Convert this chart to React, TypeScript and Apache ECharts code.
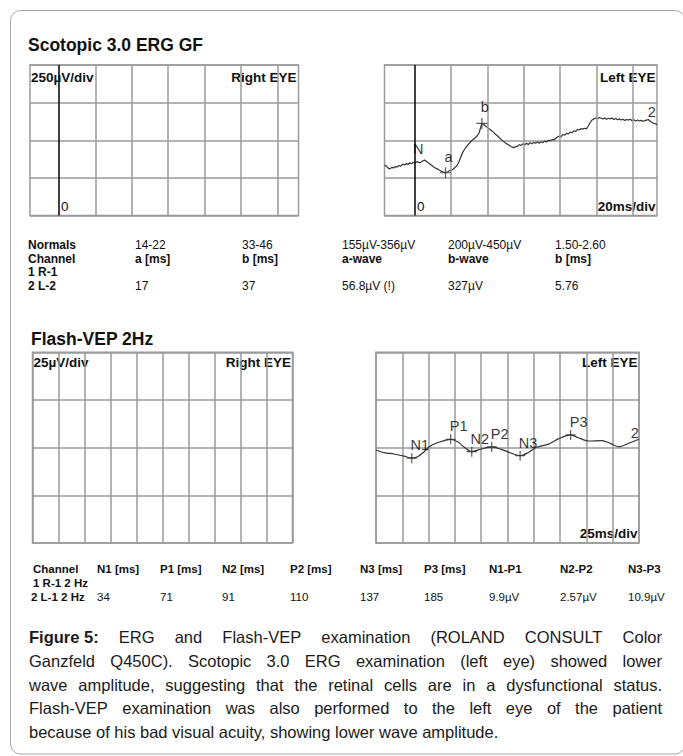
import React, { useEffect, useRef } from "react";
import * as echarts from "echarts";

// ---------- DATA ----------
// Scotopic 3.0 ERG, left eye trace (time in ms, amplitude in µV)
const ergTimeMs = [
  -16.5, -15.5, -14.5, -13.5, -12.5, -11.5, -10.5, -9.5, -8.5, -7.5, -6.5, -5.5, -4.5, -3.5, -2.5, -1.5, -0.5, 0.5,
  1.5, 2.5, 3.5, 4.5, 5.5, 6.5, 7.5, 8.5, 9.5, 10.5, 11.5, 12.5, 13.5, 14.5, 15.5, 17, 18.5, 19.5, 20.5, 21.5, 22.5,
  23.5, 24.5, 25.5, 26.5, 27.5, 28.5, 29.5, 30.5, 31.5, 32.5, 33.5, 34.5, 35.5, 36.2, 37, 38, 39.5, 41, 42.5, 44,
  45.5, 47, 48.5, 50, 51.5, 53, 54.3, 55.5, 56.5, 57.5, 58.5, 59.5, 60.5, 61.5, 62.5, 63.5, 64.5, 65.5, 66.5, 67.5,
  68.5, 69.5, 70.5, 71.5, 72.5, 73.5, 74.5, 75.5, 76.5, 77.5, 78.5, 79.5, 80.5, 81.5, 82.5, 83.5, 84.5, 85.5, 86.5,
  87.5, 88.5, 89.5, 90.5, 91.5, 92.5, 93.5, 94.5, 95.5, 96.5, 97.5, 98.5, 99.5, 100.5, 101.5, 102.5, 103.5, 104.5,
  105.5, 106.5, 107.5, 108.5, 109.5, 110.5, 111.5, 112.5, 113.5, 114.5, 115.5, 116.5, 117.5, 118.5, 119.5, 120.5,
  121.5, 122.5, 123.5, 124.5, 125.5, 126.5, 127.5, 128.5, 129.5, 130.5, 131.5, 132.5, 133.2,
];
const ergAmpUv = [
  -165, -172, -185, -190, -180, -184, -175, -178, -168, -172, -158, -164, -155, -160, -150, -156, -146, -150,
  -142, -150, -145, -138, -132, -140, -150, -158, -168, -178, -185, -190, -198, -205, -210, -216, -208, -200, -198,
  -190, -178, -165, -140, -110, -80, -60, -42, -28, -15, -2, 8, 18, 30, 50, 80, 112, 104, 90, 76, 62, 46,
  30, 12, -4, -18, -30, -42, -49, -44, -40, -30, -34, -24, -30, -20, -28, -16, -24, -14, -20, -12,
  -20, -10, -16, -6, -12, 0, -4, 4, 2, 12, 22, 28, 24, 38, 34, 46, 42, 54, 50,
  62, 58, 72, 68, 78, 74, 80, 76, 96, 118, 134, 142, 148, 144, 150, 146, 142, 148,
  140, 146, 142, 148, 138, 144, 136, 142, 134, 140, 132, 138, 134, 140, 130, 136,
  128, 134, 128, 132, 126, 130, 134, 138, 126, 118, 112, 108, 104,
];
const ergPeakNames = ["a", "b"];
const ergPeakTimeMs = [17, 37];
const ergPeakAmpUv = [-216, 112];
const ergTagNames = ["N", "2"];
const ergTagTimeMs = [2.1, 130.3];
const ergTagAmpUv = [-55, 188];
const ergDivTimeMs = [0, 20, 40, 60, 80, 100, 120];

// Flash-VEP 2Hz, left eye trace (time in ms, amplitude in µV)
const vepTimeMs = [
  0, 7.6, 17.1, 26.7, 34, 39.5, 45.8, 50.6, 57, 64.9, 71, 77.7, 84, 91, 100, 110, 119.1, 128.7, 137, 144.6, 152.6,
  163.8, 173.3, 185, 192.4, 202, 214.7, 222.7, 230.7, 240.3, 250,
];
const vepAmpUv = [
  -1.2, -2.6, -3.3, -4.4, -5.5, -4.7, -2.1, 0.5, 2.3, 3.7, 4.4, 3.1, 0.2, -2.1, -0.7, 0.4, -0.9, -2.9, -4.2, -2.6,
  0.2, 1.9, 4.6, 6.7, 5.2, 3.5, 3.7, 2.3, 0.5, 2.3, 4.4,
];
const vepPeakNames = ["N1", "P1", "N2", "P2", "N3", "P3"];
const vepPeakTimeMs = [34, 71, 91, 110, 137, 185];
const vepPeakAmpUv = [-5.5, 4.4, -2.1, 0.4, -4.2, 6.7];
const vepTagNames = ["2"];
const vepTagTimeMs = [246];
const vepTagAmpUv = [7.5];

// Tables
const ergNormalsRow = ["Normals", "14-22", "33-46", "155µV-356µV", "200µV-450µV", "1.50-2.60"];
const ergHeaderRow = ["Channel", "a [ms]", "b [ms]", "a-wave", "b-wave", "b [ms]"];
const ergRow1 = ["1 R-1"];
const ergRow2 = ["2 L-2", "17", "37", "56.8µV (!)", "327µV", "5.76"];
const vepHeaderRow = ["Channel", "N1 [ms]", "P1 [ms]", "N2 [ms]", "P2 [ms]", "N3 [ms]", "P3 [ms]", "N1-P1", "N2-P2", "N3-P3"];
const vepRow1 = ["1 R-1 2 Hz"];
const vepRow2 = ["2 L-1 2 Hz", "34", "71", "91", "110", "137", "185", "9.9µV", "2.57µV", "10.9µV"];

const captionLead = "Figure 5:";
const captionLines = [
  "Figure 5: ERG and Flash-VEP examination (ROLAND CONSULT Color",
  "Ganzfeld Q450C). Scotopic 3.0 ERG examination (left eye) showed lower",
  "wave amplitude, suggesting that the retinal cells are in a dysfunctional status.",
  "Flash-VEP examination was also performed to the left eye of the patient",
  "because of his bad visual acuity, showing lower wave amplitude.",
];

// ---------- LAYOUT / STYLE ----------
const FF = '"Liberation Sans", Arial, Helvetica, sans-serif';
const GRID_COLOR = "#9a9a9a";
const GRID_W = 1.5;
const TRACE = "#333";
const TEXT = "#111";
const ergColX = [28, 135, 242, 342, 448, 555];
const ergRowY = [245, 258.5, 272, 285.5];
const vepColX = [33, 97, 160, 222, 290, 360, 424, 489, 560, 628];
const vepRowY = [569, 583, 596.5];
const CAP_SIZE = 16.5;
const CAP_LEFT = 29;
const CAP_RIGHT = 662;
const capLineY = [637, 661, 684.5, 708, 731.5];
const PANEL_LABEL = 13.5;

let measureCtx: CanvasRenderingContext2D | null = null;
function textWidth(s: string, font: string): number {
  if (!measureCtx) measureCtx = document.createElement("canvas").getContext("2d");
  if (!measureCtx) return s.length * 7;
  measureCtx.font = font;
  return measureCtx.measureText(s).width;
}

function txt(x: number, y: number, text: string, size: number, weight: string, align = "left", color = TEXT) {
  return {
    type: "text",
    x,
    y,
    silent: true,
    style: {
      text,
      fill: color,
      fontSize: size,
      fontWeight: weight,
      fontFamily: FF,
      align,
      verticalAlign: "middle",
      textAlign: align,
      textVerticalAlign: "middle",
    },
  };
}

function captionElements() {
  const els: any[] = [];
  captionLines.forEach((line, i) => {
    let words: string[];
    let weights: string[];
    if (i === 0 && line.startsWith(captionLead)) {
      words = [captionLead, ...line.slice(captionLead.length).trim().split(" ")];
      weights = words.map((_, j) => (j === 0 ? "bold" : "normal"));
    } else {
      words = line.split(" ");
      weights = words.map(() => "normal");
    }
    const widths = words.map((w, j) => textWidth(w, `${weights[j]} ${CAP_SIZE}px "Liberation Sans"`));
    const total = widths.reduce((a, b) => a + b, 0);
    const justify = i < captionLines.length - 1;
    const gap = justify
      ? (CAP_RIGHT - CAP_LEFT - total) / (words.length - 1)
      : textWidth(" ", `normal ${CAP_SIZE}px "Liberation Sans"`);
    let x = CAP_LEFT;
    words.forEach((w, j) => {
      els.push(txt(x, capLineY[i], w, CAP_SIZE, weights[j], "left", "#1a1a1a"));
      x += widths[j] + gap;
    });
  });
  return els;
}

function tableElements() {
  const els: any[] = [];
  ergNormalsRow.forEach((t, i) => els.push(txt(ergColX[i], ergRowY[0], t, 12, i === 0 ? "bold" : "normal")));
  ergHeaderRow.forEach((t, i) => els.push(txt(ergColX[i], ergRowY[1], t, 12, "bold")));
  ergRow1.forEach((t, i) => els.push(txt(ergColX[i], ergRowY[2], t, 12, "bold")));
  ergRow2.forEach((t, i) => els.push(txt(ergColX[i], ergRowY[3], t, 12, i === 0 ? "bold" : "normal")));
  vepHeaderRow.forEach((t, i) => els.push(txt(vepColX[i], vepRowY[0], t, 11.5, "bold")));
  vepRow1.forEach((t, i) => els.push(txt(vepColX[i], vepRowY[1], t, 11.5, "bold")));
  vepRow2.forEach((t, i) => els.push(txt(i === 0 ? vepColX[i] - 2 : vepColX[i], vepRowY[2], t, 11.5, i === 0 ? "bold" : "normal")));
  return els;
}

const crossSymbol = "path://M5,0 L5,10 M0,5 L10,5";

function axisOff(extra: any) {
  return {
    type: "value",
    axisLine: { show: false },
    axisTick: { show: false },
    axisLabel: { show: false },
    splitLine: { show: false },
    ...extra,
  };
}

const splitStyle = { show: true, lineStyle: { color: GRID_COLOR, width: GRID_W, type: "solid" } };

function ergGridLines() {
  return {
    silent: true,
    symbol: ["none", "none"],
    label: { show: false },
    animation: false,
    lineStyle: { color: GRID_COLOR, width: GRID_W, type: "solid" },
    data: ergDivTimeMs.map((t) =>
      t === 0 ? { xAxis: t, lineStyle: { color: "#111", width: 1.6, type: "solid" } } : { xAxis: t }
    ),
  };
}

function pairs(xs: number[], ys: number[]) {
  return xs.map((x, i) => [x, ys[i]]);
}

function buildOption() {
  const graphic: any[] = [
    {
      type: "rect",
      silent: true,
      shape: { x: 10.5, y: 10.5, width: 674.5, height: 743.5, r: 10 },
      style: { fill: "none", stroke: "#a8a8a8", lineWidth: 1 },
    },
    txt(28, 44.5, "Scotopic 3.0 ERG GF", 17.5, "bold"),
    txt(31, 338.5, "Flash-VEP 2Hz", 17.5, "bold"),
    // ERG panel labels
    txt(31, 77, "250µV/div", PANEL_LABEL, "bold"),
    txt(296.5, 77, "Right EYE", PANEL_LABEL, "bold", "right"),
    txt(61, 206, "0", PANEL_LABEL, "normal"),
    txt(655.5, 77, "Left EYE", PANEL_LABEL, "bold", "right"),
    txt(417, 206, "0", PANEL_LABEL, "normal"),
    txt(655.5, 206, "20ms/div", PANEL_LABEL, "bold", "right"),
    // VEP panel labels
    txt(33.5, 362, "25µV/div", PANEL_LABEL, "bold"),
    txt(291, 362, "Right EYE", PANEL_LABEL, "bold", "right"),
    txt(637.5, 362, "Left EYE", PANEL_LABEL, "bold", "right"),
    txt(637.5, 533, "25ms/div", PANEL_LABEL, "bold", "right"),
    ...tableElements(),
    ...captionElements(),
  ];

  const markerLabel = (offset: number[], size: number) => ({
    show: true,
    position: "inside",
    offset,
    formatter: "{b}",
    color: "#000",
    fontSize: size,
    fontFamily: FF,
  });

  return {
    animation: false,
    backgroundColor: "#ffffff",
    grid: [
      { left: 30, top: 65, width: 268.5, height: 150.5, show: true, borderColor: GRID_COLOR, borderWidth: GRID_W },
      { left: 384.5, top: 65, width: 272.5, height: 150.5, show: true, borderColor: GRID_COLOR, borderWidth: GRID_W },
      { left: 32.5, top: 352.3, width: 260, height: 190.8, show: true, borderColor: GRID_COLOR, borderWidth: GRID_W },
      { left: 376, top: 352.3, width: 263, height: 190.8, show: true, borderColor: GRID_COLOR, borderWidth: GRID_W },
    ],
    xAxis: [
      axisOff({ gridIndex: 0, min: -15.9, max: 131.6 }),
      axisOff({ gridIndex: 1, min: -16.5, max: 133.2 }),
      axisOff({ gridIndex: 2, min: 0, max: 250, interval: 25, splitLine: splitStyle }),
      axisOff({ gridIndex: 3, min: 0, max: 250, interval: 25, splitLine: splitStyle }),
    ],
    yAxis: [
      axisOff({ gridIndex: 0, min: -500, max: 500, interval: 250, splitLine: splitStyle }),
      axisOff({ gridIndex: 1, min: -500, max: 500, interval: 250, splitLine: splitStyle }),
      axisOff({ gridIndex: 2, min: -50, max: 50, interval: 25, splitLine: splitStyle }),
      axisOff({ gridIndex: 3, min: -50, max: 50, interval: 25, splitLine: splitStyle }),
    ],
    graphic,
    series: [
      // ERG right eye (no response recorded) — grid divisions only
      { type: "line", xAxisIndex: 0, yAxisIndex: 0, data: [], silent: true, z: 1, markLine: ergGridLines() },
      // ERG left eye
      { type: "line", xAxisIndex: 1, yAxisIndex: 1, data: [], silent: true, z: 1, markLine: ergGridLines() },
      {
        type: "line",
        name: "ERG left",
        xAxisIndex: 1,
        yAxisIndex: 1,
        data: pairs(ergTimeMs, ergAmpUv),
        showSymbol: false,
        symbol: "none",
        silent: true,
        z: 4,
        lineStyle: { color: TRACE, width: 1.2 },
      },
      {
        type: "scatter",
        xAxisIndex: 1,
        yAxisIndex: 1,
        silent: true,
        z: 5,
        symbol: crossSymbol,
        symbolSize: 11,
        itemStyle: { color: "none", borderColor: TRACE, borderWidth: 1.2 },
        label: markerLabel([3, -16], 14.5),
        data: ergPeakNames.map((n, i) => ({ name: n, value: [ergPeakTimeMs[i], ergPeakAmpUv[i]] })),
      },
      {
        type: "scatter",
        xAxisIndex: 1,
        yAxisIndex: 1,
        silent: true,
        z: 5,
        symbol: "circle",
        symbolSize: 1,
        itemStyle: { color: "rgba(0,0,0,0)" },
        label: markerLabel([0, 0], 14.5),
        data: ergTagNames.map((n, i) => ({ name: n, value: [ergTagTimeMs[i], ergTagAmpUv[i]] })),
      },
      // VEP right eye (empty)
      { type: "line", xAxisIndex: 2, yAxisIndex: 2, data: [], silent: true },
      // VEP left eye
      {
        type: "line",
        name: "VEP left",
        xAxisIndex: 3,
        yAxisIndex: 3,
        data: pairs(vepTimeMs, vepAmpUv),
        showSymbol: false,
        symbol: "none",
        smooth: 0.3,
        silent: true,
        z: 4,
        lineStyle: { color: TRACE, width: 1.2 },
      },
      {
        type: "scatter",
        xAxisIndex: 3,
        yAxisIndex: 3,
        silent: true,
        z: 5,
        symbol: crossSymbol,
        symbolSize: 10,
        itemStyle: { color: "none", borderColor: TRACE, borderWidth: 1.2 },
        label: markerLabel([8, -13], 14.5),
        data: vepPeakNames.map((n, i) => ({ name: n, value: [vepPeakTimeMs[i], vepPeakAmpUv[i]] })),
      },
      {
        type: "scatter",
        xAxisIndex: 3,
        yAxisIndex: 3,
        silent: true,
        z: 5,
        symbol: "circle",
        symbolSize: 1,
        itemStyle: { color: "rgba(0,0,0,0)" },
        label: markerLabel([0, 0], 14.5),
        data: vepTagNames.map((n, i) => ({ name: n, value: [vepTagTimeMs[i], vepTagAmpUv[i]] })),
      },
    ],
  };
}

export default function App() {
  const ref = useRef<HTMLDivElement>(null);
  useEffect(() => {
    const el = ref.current;
    if (!el) return;
    const chart = echarts.init(el, undefined, { renderer: "svg", width: 683, height: 756 });
    chart.setOption(buildOption() as any);
    return () => chart.dispose();
  }, []);
  return (
    <div
      ref={ref}
      style={{ position: "absolute", left: 0, top: 0, width: 683, height: 756, background: "#fff" }}
    />
  );
}
